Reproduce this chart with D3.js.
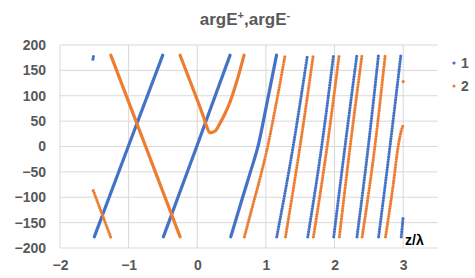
<!DOCTYPE html>
<html>
<head>
<meta charset="utf-8">
<script src="https://cdn.jsdelivr.net/npm/d3@7"></script>
<style>
  html, body { margin: 0; padding: 0; background: #fff; }
  svg { display: block; font-family: "Liberation Sans", Arial, sans-serif; }
</style>
</head>
<body>
<svg id="chart" width="475" height="278"></svg>
<script>
// Tick values
const xTicks = [-2, -1, 0, 1, 2, 3];
const yTicks = [-200, -150, -100, -50, 0, 50, 100, 150, 200];

// Series 1 (argE+) — each inner array is one wrapped branch, [z/λ, phase]
const series1 = [
  [[-1.52, 172], [-1.51, 180]],
  [[-1.50, -178], [-1.0, 2], [-0.503, 180]],
  [[-0.494, -178], [0, 3], [0.478, 180]],
  [[0.488, -178], [0.65, -105], [0.77, -52], [0.89, 3], [1.0, 75], [1.155, 180]],
  [[1.158, -178], [1.40, 3], [1.605, 180]],
  [[1.61, -178], [1.815, 3], [1.985, 180]],
  [[1.988, -178], [2.155, 3], [2.325, 180]],
  [[2.327, -178], [2.494, 3], [2.64, 180]],
  [[2.642, -178], [2.81, 3], [2.966, 180]],
  [[2.972, -178], [3.0, -138]]
];

// Series 2 (argE-)
const series2 = [
  [[-1.515, -87], [-1.257, -180]],
  [[-1.26, 180], [-0.25, -178]],
  [[-0.251, 180], [-0.08, 120], [0.089, 59], [0.138, 39], [0.187, 27], [0.26, 30.5],
   [0.332, 46], [0.405, 65], [0.478, 88], [0.575, 128], [0.682, 180]],
  [[0.687, -178], [0.8, -120], [0.915, -62], [1.03, 3], [1.15, 85], [1.28, 180]],
  [[1.285, -178], [1.50, 3], [1.69, 180]],
  [[1.692, -178], [1.895, 3], [2.067, 180]],
  [[2.07, -178], [2.23, 3], [2.40, 180]],
  [[2.402, -178], [2.59, 3], [2.738, 180]],
  [[2.742, -178], [2.85, -80], [2.93, 3], [2.97, 30], [3.0, 42]],
  [[3.0, 128]]
];

const seriesNames = ['1', '2'];
const seriesColors = ['#4472C4', '#ED7D31'];

const svg = d3.select('#chart');
const margin = { left: 60, right: 37.5, top: 45, bottom: 30 };
const width = 475, height = 278;

const x = d3.scaleLinear().domain([-2, 3.5]).range([margin.left, width - margin.right]);
const y = d3.scaleLinear().domain([-200, 200]).range([height - margin.bottom, margin.top]);

// Gridlines
svg.append('g')
  .selectAll('line')
  .data(yTicks)
  .join('line')
  .attr('x1', x(-2)).attr('x2', x(3.5))
  .attr('y1', d => y(d)).attr('y2', d => y(d))
  .attr('stroke', '#d9d9d9').attr('stroke-width', 1);

svg.append('g')
  .selectAll('line')
  .data(xTicks)
  .join('line')
  .attr('x1', d => x(d)).attr('x2', d => x(d))
  .attr('y1', y(200)).attr('y2', y(-200))
  .attr('stroke', '#d9d9d9').attr('stroke-width', 1);

// Axes (labels only)
const yAxis = svg.append('g')
  .attr('transform', `translate(${margin.left - 14},0)`)
  .call(d3.axisLeft(y).tickValues(yTicks).tickFormat(d3.format('d')).tickSize(0).tickPadding(0));
const xAxis = svg.append('g')
  .attr('transform', `translate(0,${height - margin.bottom + 9})`)
  .call(d3.axisBottom(x).tickValues(xTicks).tickFormat(d3.format('d')).tickSize(0).tickPadding(0));

[yAxis, xAxis].forEach(g => {
  g.select('.domain').remove();
  g.selectAll('text')
    .attr('fill', '#595959')
    .attr('font-size', '14px')
    .attr('font-weight', 'bold')
    .attr('font-family', '"Liberation Sans", Arial, sans-serif');
});
xAxis.selectAll('text').attr('dy', '0.9em');

// Series
const line = d3.line()
  .x(d => x(d[0]))
  .y(d => y(d[1]))
  .curve(d3.curveMonotoneX);

[series1, series2].forEach((series, i) => {
  const g = svg.append('g');
  g.selectAll('path')
    .data(series.filter(s => s.length > 1))
    .join('path')
    .attr('d', line)
    .attr('fill', 'none')
    .attr('stroke', seriesColors[i])
    .attr('stroke-width', 3.2)
    .attr('stroke-linecap', 'round')
    .attr('stroke-dasharray', d => d[d.length - 1][0] - d[0][0] > 0.6 ? null : '0 2.6');
  g.selectAll('circle')
    .data(series.filter(s => s.length === 1).map(s => s[0]))
    .join('circle')
    .attr('cx', d => x(d[0]))
    .attr('cy', d => y(d[1]))
    .attr('r', 1.6)
    .attr('fill', seriesColors[i]);
});

// Title
const title = svg.append('text')
  .attr('x', 245).attr('y', 25)
  .attr('text-anchor', 'middle')
  .attr('fill', '#595959')
  .attr('font-size', '17px')
  .attr('font-weight', 'bold');
title.append('tspan').text('argE');
title.append('tspan').text('+').attr('font-size', '11px').attr('dy', -6);
title.append('tspan').text(',argE').attr('font-size', '17px').attr('dy', 6);
title.append('tspan').text('-').attr('font-size', '11px').attr('dy', -6);

// Axis label
svg.append('text')
  .attr('x', 405).attr('y', 245)
  .attr('fill', '#000')
  .attr('font-size', '14px')
  .attr('font-weight', 'bold')
  .text('z/λ');

// Legend
const legend = svg.append('g')
  .selectAll('g')
  .data(seriesNames)
  .join('g')
  .attr('transform', (d, i) => `translate(454,${63 + i * 23})`);
legend.append('circle')
  .attr('r', 1.6)
  .attr('fill', (d, i) => seriesColors[i]);
legend.append('text')
  .attr('x', 7).attr('dy', '0.35em')
  .attr('fill', '#595959')
  .attr('font-size', '14px')
  .attr('font-weight', 'bold')
  .text(d => d);
</script>
</body>
</html>
